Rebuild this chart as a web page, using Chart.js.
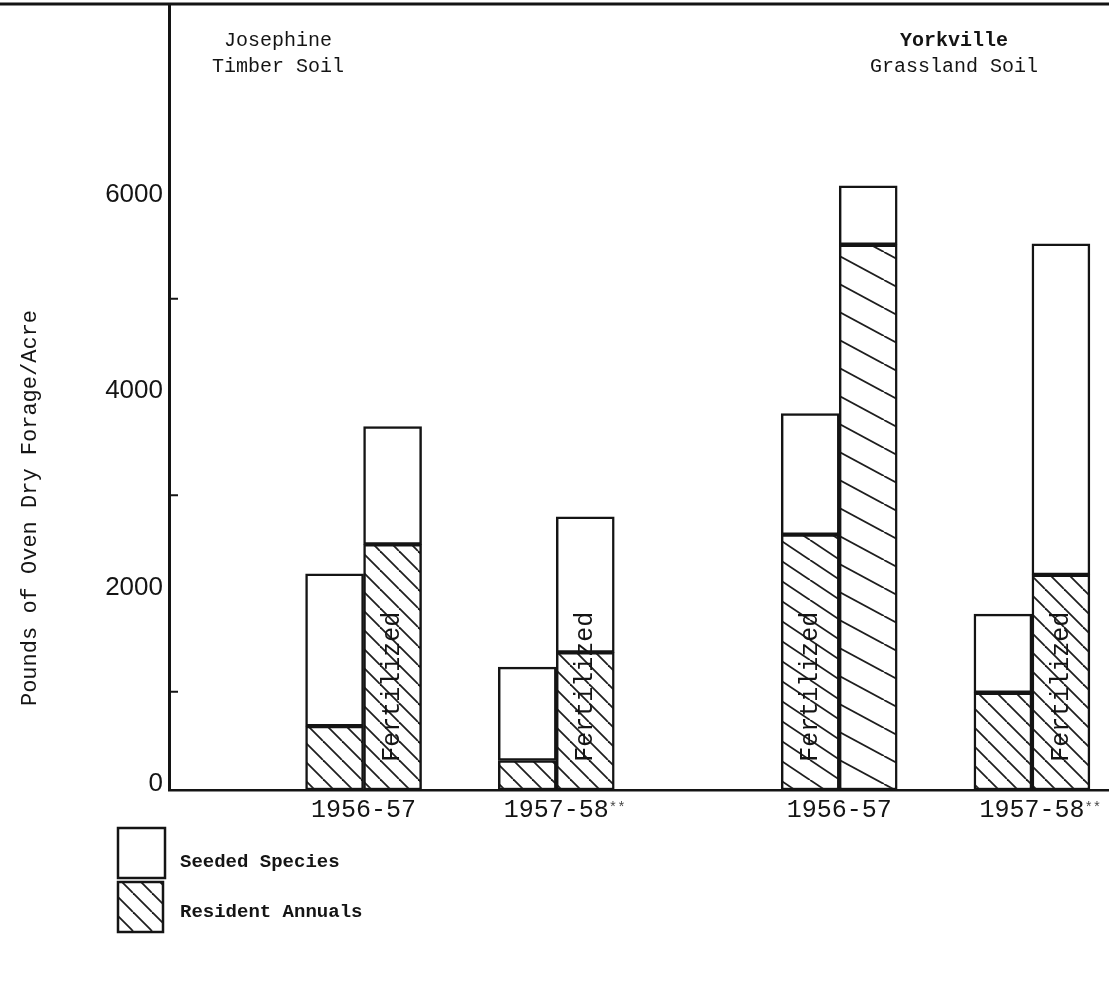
<!DOCTYPE html>
<html><head><meta charset="utf-8">
<script src="https://cdn.jsdelivr.net/npm/chart.js@4.4.1/dist/chart.umd.min.js"></script>
<style>html,body{margin:0;padding:0;background:#fff;overflow:hidden}</style>
</head><body>
<canvas id="c" width="1109" height="994"></canvas>
<script>
// ---------- data ----------
const soilGroups = ["Josephine", "Yorkville"];
const soilSubtitles = ["Timber Soil", "Grassland Soil"];
const seasons = ["1956-57", "1957-58", "1956-57", "1957-58"];
const seasonNotes = ["", "**", "", "**"];
const residentUnfertilized = [650, 300, 2600, 990];
const seededUnfertilized = [1550, 950, 1230, 800];
const residentFertilized = [2500, 1400, 5550, 2190];
const seededFertilized = [1200, 1380, 600, 3370];
const yTickValues = [0, 2000, 4000, 6000];
const yMinorTicks = [1000, 3000, 5000];
const seriesLabels = ["Seeded Species", "Resident Annuals"];
const fertilizedNote = "Fertilized";
const yAxisTitle = "Pounds of Oven Dry Forage/Acre";

// ---------- layout (not data) ----------
const groupX = [2.07, 4.12, 7.13, 9.18];          // x-scale position of each season pair
const noteStack = [1, 1, 0, 1];                    // which bar of the pair carries the note (0 left, 1 right)
const groupTitleX = [278, 954];
const INK = '#141414';
const MONO = '"Liberation Mono", "DejaVu Sans Mono", monospace';

const ctx0 = document.getElementById('c').getContext('2d');
function makeHatch(w, h, lw) {
  const c = document.createElement('canvas'); c.width = w; c.height = h;
  const g = c.getContext('2d');
  g.fillStyle = '#fff'; g.fillRect(0, 0, w, h);
  g.strokeStyle = '#1e1e1e'; g.lineWidth = lw;
  for (const dx of [-w, 0, w]) { g.beginPath(); g.moveTo(dx, 0); g.lineTo(dx + w, h); g.stroke(); }
  return ctx0.createPattern(c, 'repeat');
}
const hatchA = makeHatch(19, 19, 1.8);
const hatchB = makeHatch(30, 20, 1.8);
const hatchC = makeHatch(52, 28, 1.8);
const resUBg = [hatchA, hatchA, hatchB, hatchA];
const resFBg = [hatchA, hatchA, hatchC, hatchA];

const pts = arr => arr.map((v, i) => ({ x: groupX[i], y: v }));
const barStyle = { borderColor: INK, borderWidth: 2.5, borderSkipped: false, barThickness: 58 };

const overlay = {
  id: 'overlay',
  afterDatasetsDraw(chart) {
    const g = chart.ctx, y = chart.scales.y;
    g.save();
    g.font = '25px ' + MONO; g.fillStyle = INK; g.textAlign = 'center'; g.textBaseline = 'middle';
    seasons.forEach((s, i) => {
      const di = noteStack[i] === 0 ? 0 : 2;
      const bar = chart.getDatasetMeta(di).data[i];
      g.save(); g.translate(bar.x, y.getPixelForValue(1050)); g.rotate(-Math.PI / 2);
      g.fillText(fertilizedNote, 0, 0); g.restore();
    });
    g.restore();
  },
  afterDraw(chart) {
    const g = chart.ctx, a = chart.chartArea, y = chart.scales.y, x = chart.scales.x;
    g.save();
    g.strokeStyle = INK; g.lineWidth = 3;
    g.beginPath(); g.moveTo(0, a.top); g.lineTo(chart.width, a.top); g.stroke();
    g.lineWidth = 2;
    yMinorTicks.forEach(v => { const p = y.getPixelForValue(v); g.beginPath(); g.moveTo(a.left, p); g.lineTo(a.left + 9, p); g.stroke(); });
    g.fillStyle = INK; g.font = '22px ' + MONO; g.textAlign = 'center'; g.textBaseline = 'middle';
    g.save(); g.translate(30, 508); g.rotate(-Math.PI / 2); g.fillText(yAxisTitle, 0, 0); g.restore();
    soilGroups.forEach((t, i) => {
      g.font = (i === 1 ? 'bold ' : '') + '20px ' + MONO;
      g.fillText(t, groupTitleX[i], 41);
      g.font = '20px ' + MONO;
      g.fillText(soilSubtitles[i], groupTitleX[i], 67);
    });
    seasons.forEach((s, i) => {
      const cx = x.getPixelForValue(groupX[i]);
      g.font = '25px ' + MONO;
      const w = g.measureText(s).width;
      g.textAlign = 'left';
      g.fillText(s, cx - w / 2, 810);
      if (seasonNotes[i]) { g.font = '14px ' + MONO; g.fillStyle = '#444'; g.fillText(seasonNotes[i], cx + w / 2, 808); g.fillStyle = INK; }
    });
    g.lineWidth = 2.5; g.strokeStyle = INK;
    g.fillStyle = '#fff'; g.fillRect(118, 828, 47, 50); g.strokeRect(118, 828, 47, 50);
    g.fillStyle = hatchA; g.fillRect(118, 882, 45, 50); g.strokeRect(118, 882, 45, 50);
    g.fillStyle = INK; g.font = 'bold 19px ' + MONO; g.textAlign = 'left';
    g.fillText(seriesLabels[0], 180, 862);
    g.fillText(seriesLabels[1], 180, 912);
    g.restore();
  }
};

new Chart(ctx0, {
  type: 'bar',
  data: {
    datasets: [
      { label: seriesLabels[1], stack: 'u', data: pts(residentUnfertilized), backgroundColor: resUBg, ...barStyle },
      { label: seriesLabels[0], stack: 'u', data: pts(seededUnfertilized), backgroundColor: '#fff', ...barStyle },
      { label: seriesLabels[1], stack: 'f', data: pts(residentFertilized), backgroundColor: resFBg, ...barStyle },
      { label: seriesLabels[0], stack: 'f', data: pts(seededFertilized), backgroundColor: '#fff', ...barStyle }
    ]
  },
  options: {
    responsive: false, animation: false, devicePixelRatio: 1,
    layout: { padding: { top: 4, left: 0, right: 0, bottom: 0 } },
    plugins: { legend: { display: false }, tooltip: { enabled: false } },
    scales: {
      x: {
        type: 'linear', min: 0, max: 10, offset: false,
        grid: { display: false, drawTicks: false },
        border: { display: true, color: INK, width: 2.5 },
        ticks: { display: false },
        afterFit: s => { s.height = 994 - 790; s.paddingLeft = 0; s.paddingRight = 0; }
      },
      y: {
        stacked: true, min: 0, max: 8000,
        grid: { display: false, drawTicks: false },
        border: { display: true, color: INK, width: 3 },
        afterBuildTicks: s => { s.ticks = yTickValues.map(v => ({ value: v })); },
        ticks: { color: INK, font: { family: '"Liberation Sans", Arial, sans-serif', size: 26 }, padding: 6, labelOffset: -6, callback: v => String(v) },
        afterFit: s => { s.width = 169; s.paddingTop = 0; s.paddingBottom = 0; }
      }
    }
  },
  plugins: [overlay]
});
</script>
</body></html>
